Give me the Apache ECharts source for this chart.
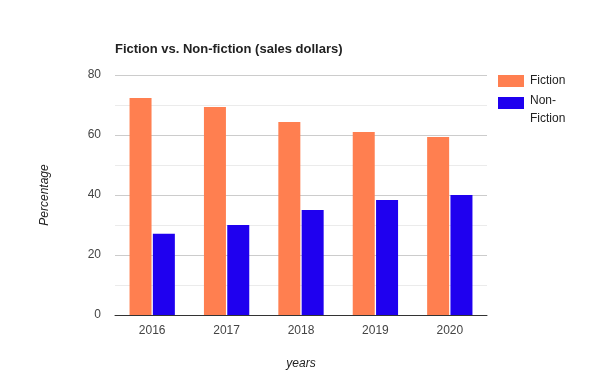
<!DOCTYPE html>
<html><head><meta charset="utf-8">
<script src="https://cdn.jsdelivr.net/npm/echarts@6/dist/echarts.min.js"></script>
<style>html,body{margin:0;padding:0;background:#fff}#c{width:600px;height:390px}</style>
</head><body><div id="c"></div>
<script>
const categories = ['2016', '2017', '2018', '2019', '2020'];
const fiction = [72.3, 69.3, 64.3, 61.0, 59.3];
const nonFiction = [27.1, 30.0, 35.0, 38.3, 40.0];
const seriesNames = ['Fiction', 'Non-Fiction'];
const yTicks = [0, 20, 40, 60, 80];

const font = 'Arial, Liberation Sans';
const chart = echarts.init(document.getElementById('c'));
chart.setOption({
  animation: false,
  title: {
    text: 'Fiction vs. Non-fiction (sales dollars)',
    left: 110, top: 38,
    textStyle: { fontFamily: font, fontSize: 13, fontWeight: 'bold', color: '#222' }
  },
  legend: [
    {
      orient: 'vertical', left: 498, top: 75, padding: 0,
      itemWidth: 26, itemHeight: 12, icon: 'rect',
      data: [seriesNames[0]],
      textStyle: { fontFamily: font, fontSize: 12, color: '#222', padding: [0,0,0,1] }
    },
    {
      orient: 'vertical', left: 498, top: 84.5, padding: 0,
      itemWidth: 26, itemHeight: 12, icon: 'rect',
      data: [seriesNames[1]],
      formatter: n => '{z| }\n{a|Non-}\n{a|Fiction}',
      textStyle: {
        fontFamily: font, fontSize: 12, color: '#222',
        rich: {
          z: { fontSize: 1, lineHeight: 14 },
          a: { fontFamily: font, fontSize: 12, color: '#222', lineHeight: 18, padding: [0,0,0,1] }
        }
      }
    }
  ],
  grid: { left: 115, right: 113, top: 75, bottom: 75 },
  xAxis: {
    type: 'category', data: categories,
    name: 'years', nameLocation: 'middle', nameGap: 43,
    nameTextStyle: { fontFamily: font, fontSize: 12, fontStyle: 'italic', color: '#222' },
    axisLine: { lineStyle: { color: '#333', width: 1 } },
    axisTick: { show: false },
    axisLabel: { fontFamily: font, fontSize: 12, color: '#444', margin: 10 }
  },
  yAxis: {
    type: 'value', min: yTicks[0], max: yTicks[yTicks.length-1], interval: 20,
    name: 'Percentage', nameLocation: 'middle', nameGap: 64, nameRotate: 90,
    nameTextStyle: { fontFamily: font, fontSize: 12, fontStyle: 'italic', color: '#222' },
    axisLine: { show: false }, axisTick: { show: false },
    axisLabel: { fontFamily: font, fontSize: 12, color: '#444', margin: 14 },
    splitLine: { lineStyle: { color: '#cccccc' } },
    minorTick: { show: false, splitNumber: 2 },
    minorSplitLine: { show: true, lineStyle: { color: '#ebebeb' } }
  },
  series: [
    { name: seriesNames[0], type: 'bar', data: fiction, barWidth: 22, barGap: '6%',
      itemStyle: { color: '#ff7f50' } },
    { name: seriesNames[1], type: 'bar', data: nonFiction, barWidth: 22,
      itemStyle: { color: '#1f00ef' } }
  ]
});
</script></body></html>
